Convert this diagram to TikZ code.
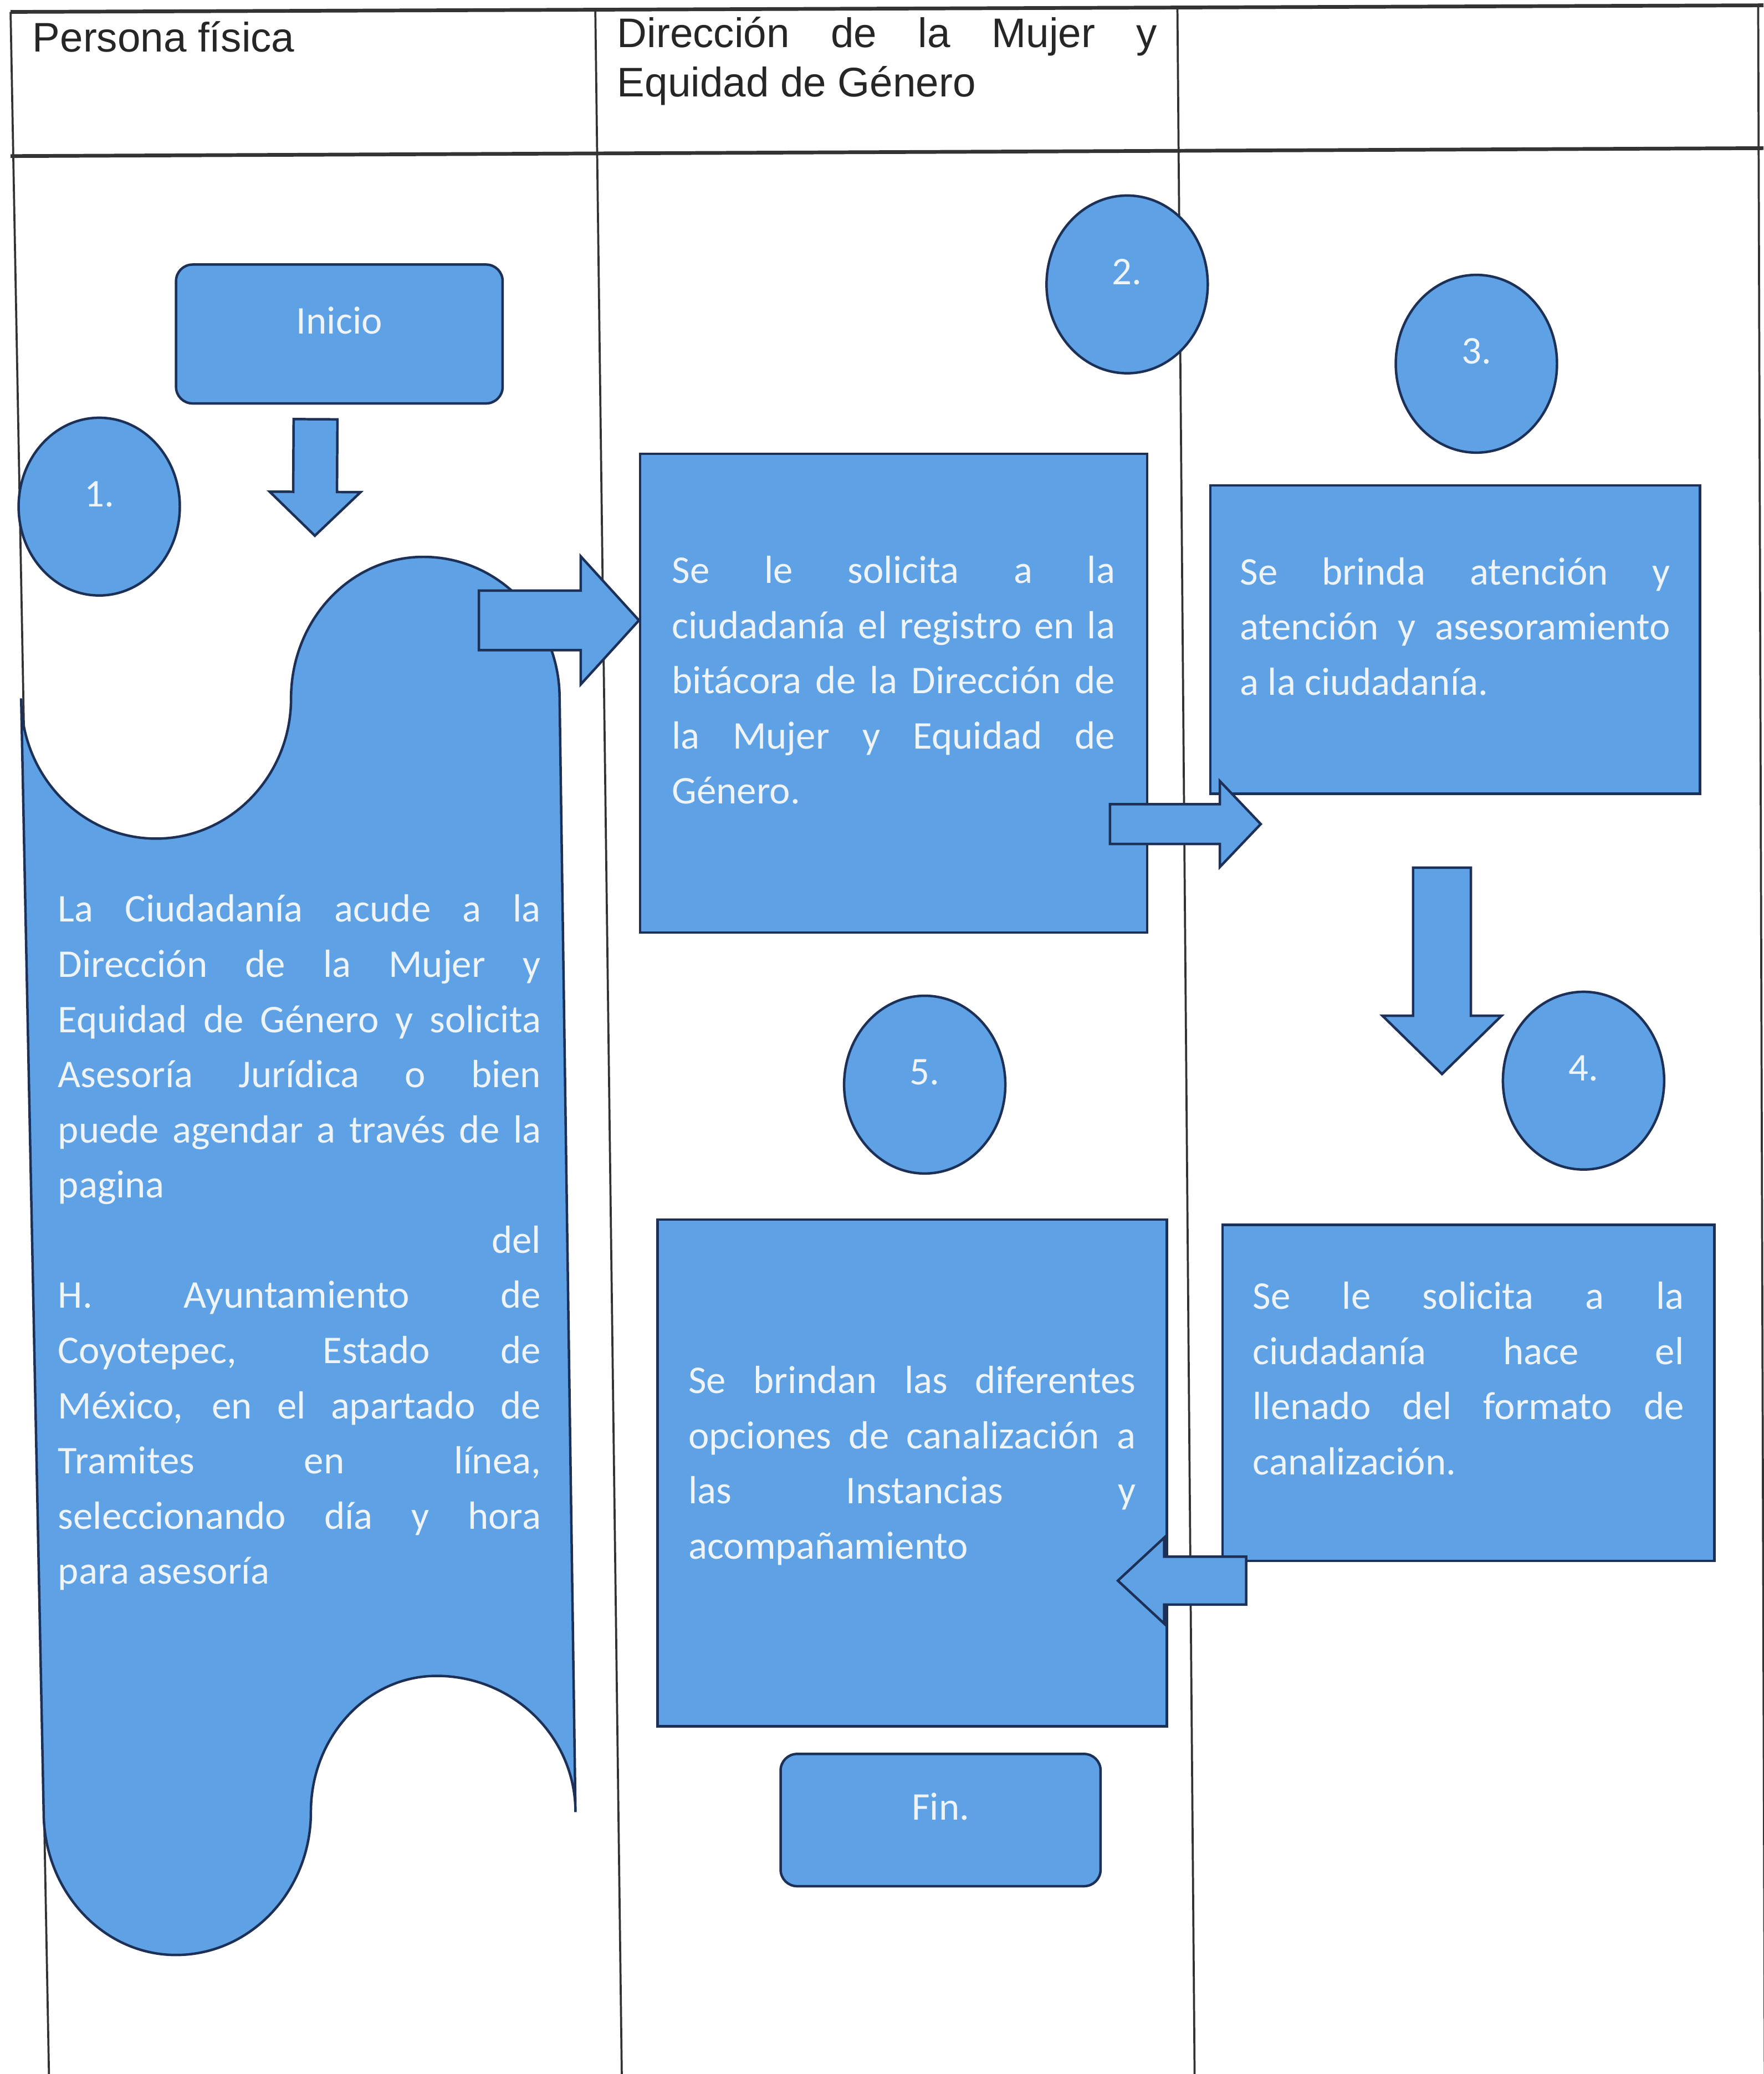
\documentclass[tikz,border=0pt]{standalone}
\usepackage{fontspec}
\setmainfont{Carlito}
\newfontfamily\arialfont{Liberation Sans}
\usetikzlibrary{calc,shapes.geometric}

\definecolor{boxblue}{RGB}{94,162,229}
\definecolor{boxline}{RGB}{28,48,88}
\definecolor{boxtext}{RGB}{238,244,250}

% block arrow: tail, tip, shaft half width, head half width, head length
\newcommand{\blockarrow}[5]{%
    \coordinate (ba) at ($(#2)!#5!(#1)$);
    \draw[barrow] ($(#1)!#3!90:(#2)$) -- ($(ba)!#3!90:(#2)$) -- ($(ba)!#4!90:(#2)$) -- (#2)
        -- ($(ba)!#4!-90:(#2)$) -- ($(ba)!#3!-90:(#2)$) -- ($(#1)!#3!-90:(#2)$) -- cycle;}

\tikzset{
    flowbox/.style={draw=boxline, fill=boxblue, line width=0.6pt, text=boxtext,
        font={\fontsize{9.5}{13.35}\selectfont\tolerance=10000\hbadness=10000}, align=justify},
    roundbox/.style={flowbox, rounded corners=4pt, align=center},
    stepnum/.style={flowbox, ellipse, minimum width=39pt, minimum height=43pt, inner sep=0pt, align=center},
    barrow/.style={draw=boxline, fill=boxblue, line width=0.6pt},
    lane/.style={line width=0.5pt, black!80},
    headtext/.style={font={\arialfont\fontsize{10}{11.84}\selectfont\tolerance=10000\hbadness=10000},
        inner sep=0pt, text=black!85},
}

\begin{document}
\begin{tikzpicture}[x=0.32pt, y=-0.32pt]
    \fill[white] (0,0) rectangle (1333,1568);
    \useasboundingbox (0,0) rectangle (1333,1568);

    % table
    \draw[lane, line width=0.9pt] (8,9) -- (1333,4);
    \draw[lane, line width=0.9pt] (8,118) -- (1333,112);
    \draw[lane] (8,9) -- (37,1568);
    \draw[lane] (450,8) -- (470,1568);
    \draw[lane] (890,6) -- (903,1568);
    \draw[lane] (1329,4) -- (1334,1568);

    \node[name=hpersona, headtext, anchor=base west] at (24,39) {Persona física};
    \node[name=hdir, headtext, anchor=base west, text width=130.6pt, align=justify] at (466,36)
        {Dirección de la Mujer y\linebreak Equidad de Género};

    % step 1
    \node[name=inicio, roundbox, minimum width=79pt, minimum height=33.6pt] at (256.5,252.5) {\smash{Inicio}};
    \node[name=n1, stepnum] at (75,383) {\smash{1.}};
    \draw[flowbox] (16,528) .. controls (16,586.5) and (61.7,634) .. (118,634)
        .. controls (174.3,634) and (220,586.5) .. (220,528)
        .. controls (220,468.9) and (264.8,421) .. (320,421)
        .. controls (376.9,421) and (423,468.9) .. (423,528)
        -- (435,1370) .. controls (435,1313.1) and (388,1267) .. (330,1267)
        .. controls (277.5,1267) and (235,1313.1) .. (235,1370)
        .. controls (235,1429.6) and (189.3,1478) .. (133,1478)
        .. controls (77.8,1478) and (33,1429.6) .. (33,1370) -- cycle;
    \node[name=wavetext, flowbox, draw=none, fill=none, inner sep=0pt, anchor=base west,
        text width=116.8pt] at (43,697)
        {La Ciudadanía acude a la\linebreak
         Dirección de la Mujer y\linebreak
         Equidad de Género y solicita\linebreak
         Asesoría Jurídica o bien\linebreak
         puede agendar a través de la\linebreak
         pagina\\
         \hspace*{\fill}del\\
         H.\ Ayuntamiento de\linebreak
         Coyotepec, Estado de\linebreak
         México, en el apartado de\linebreak
         Tramites en línea,\linebreak
         seleccionando día y hora\linebreak
         para asesoría};

    % steps 2 to 5
    \node[name=n2, stepnum] at (852,215) {\smash{2.}};
    \node[name=box2, flowbox, minimum width=122.6pt, minimum height=115.8pt, text width=107.2pt]
        at (675.5,524)
        {Se le solicita a la\linebreak
         ciudadanía el registro en la\linebreak
         bitácora de la Dirección de\linebreak
         la Mujer y Equidad de\linebreak
         Género.\rule[-6.4pt]{0pt}{6.4pt}};
    \node[name=n3, stepnum] at (1116,275) {\smash{3.}};
    \node[name=box3, flowbox, minimum width=118.4pt, minimum height=74.6pt, text width=104pt]
        at (1100,483.5)
        {Se brinda atención y\linebreak
         atención y asesoramiento\linebreak
         a la ciudadanía.\rule[-6.4pt]{0pt}{6.4pt}};
    \node[name=n4, stepnum] at (1197,817) {\smash{4.}};
    \node[name=box4, flowbox, minimum width=119pt, minimum height=81.3pt, text width=104.3pt]
        at (1110,1053)
        {Se le solicita a la\linebreak
         ciudadanía hace el\linebreak
         llenado del formato de\linebreak
         canalización.\rule[-7pt]{0pt}{7pt}};
    \node[name=n5, stepnum] at (699,820) {\smash{5.}};
    \node[name=box5, flowbox, minimum width=123.2pt, minimum height=122.6pt, text width=108.2pt]
        at (689.5,1113.5)
        {Se brindan las diferentes\linebreak
         opciones de canalización a\linebreak
         las Instancias y\linebreak
         acompañamiento\rule[-5pt]{0pt}{5pt}};
    \node[name=fin, roundbox, minimum width=77.4pt, minimum height=32pt] at (711,1376) {\smash{Fin.}};

    % arrows
    \coordinate (i-tail) at ($(inicio.south)+(-18,11)$);
    \coordinate (i-tip) at (238,405);
    \blockarrow{i-tail}{i-tip}{5.3pt}{11pt}{10.6pt}
    \coordinate (a1-tail) at (362,469);
    \blockarrow{a1-tail}{box2.west |- a1-tail}{7.2pt}{15.5pt}{14.1pt}
    \coordinate (a2-tail) at (839,623);
    \coordinate (a2-tip) at (953,623);
    \blockarrow{a2-tail}{a2-tip}{4.8pt}{10.4pt}{9.9pt}
    \coordinate (a3-tail) at ($(box3.south)+(-10,55)$);
    \coordinate (a3-tip) at (1090,812);
    \blockarrow{a3-tail}{a3-tip}{7pt}{14.4pt}{14.1pt}
    \coordinate (a4-tail) at (942,1195);
    \coordinate (a4-tip) at (845,1195);
    \blockarrow{a4-tail}{a4-tip}{5.8pt}{10.4pt}{11.2pt}
\end{tikzpicture}
\end{document}
